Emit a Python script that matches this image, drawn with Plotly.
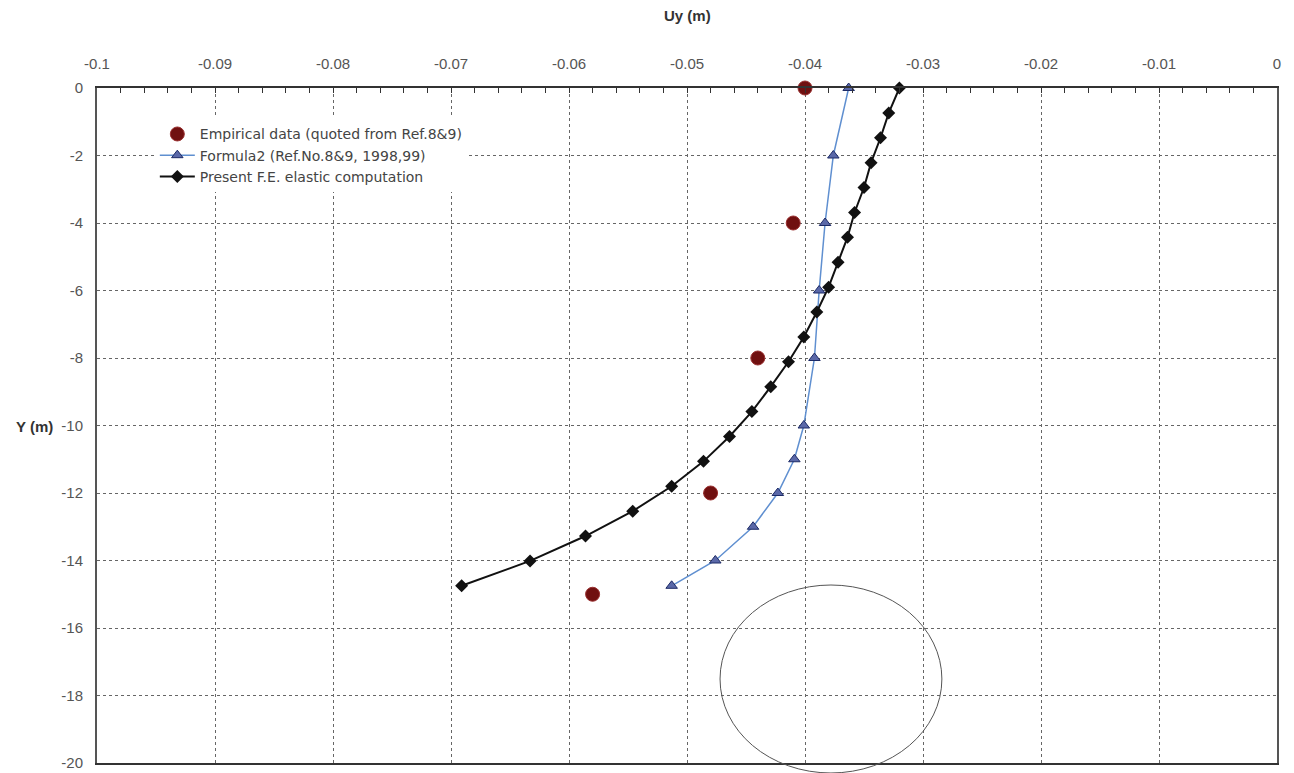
import plotly.graph_objects as go

# Measured points: empirical displacements (m) at depth Y (m)
emp_y = [0, -4, -8, -12, -15]
emp_uy = [-0.0400, -0.0410, -0.0440, -0.0480, -0.0580]

# Formula2 (Ref.No.8&9, 1998,99)
f2_y = [0, -2, -4, -6, -8, -10, -11, -12, -13, -14, -14.75]
f2_uy = [-0.0363, -0.0376, -0.0383, -0.0388, -0.0392, -0.0401, -0.0409,
         -0.0423, -0.0444, -0.0476, -0.0513]

# Present F.E. elastic computation (21 nodes along the wall)
fe_y = [0, -0.7375, -1.475, -2.2125, -2.95, -3.6875, -4.425, -5.1625, -5.9,
        -6.6375, -7.375, -8.1125, -8.85, -9.5875, -10.325, -11.0625, -11.8,
        -12.5375, -13.275, -14.0125, -14.75]
fe_uy = [-0.0320, -0.0329, -0.0336, -0.0344, -0.0350, -0.0358, -0.0364,
         -0.0372, -0.0380, -0.0390, -0.0401, -0.0414, -0.0429, -0.0445,
         -0.0464, -0.0486, -0.0513, -0.0546, -0.0586, -0.0633, -0.0691]

x_ticks = [-0.1, -0.09, -0.08, -0.07, -0.06, -0.05, -0.04, -0.03, -0.02, -0.01, 0]
x_labels = ["-0.1", "-0.09", "-0.08", "-0.07", "-0.06", "-0.05", "-0.04",
            "-0.03", "-0.02", "-0.01", "0"]
y_ticks = [0, -2, -4, -6, -8, -10, -12, -14, -16, -18, -20]
y_labels = ["0", "-2", "-4", "-6", "-8", "-10", "-12", "-14", "-16", "-18", "-20"]

# highlighted zone near the toe of the wall (x in data units, y in paper units)
zone_x = [-0.0472, -0.0284]
zone_y = [-0.0148, 0.2637]

FONT = "Liberation Sans, Arial, sans-serif"
LEGEND_FONT = "DejaVu Sans, Verdana, sans-serif"

fig = go.Figure()

fig.add_trace(go.Scatter(
    x=emp_uy, y=emp_y, mode="markers",
    name="Empirical data (quoted from Ref.8&9)", legendgroup="a",
    marker=dict(symbol="circle", size=14, color="#701010",
                line=dict(color="#9a3030", width=1)),
    cliponaxis=False,
))
fig.add_trace(go.Scatter(
    x=f2_uy, y=f2_y, mode="lines+markers",
    name="Formula2 (Ref.No.8&9, 1998,99)", legendgroup="b",
    line=dict(color="#5f8fd0", width=1.5),
    marker=dict(symbol="triangle-up", size=10, color="#5a68a8",
                line=dict(color="#1c2a66", width=1)),
    cliponaxis=False,
))
fig.add_trace(go.Scatter(
    x=fe_uy, y=fe_y, mode="lines+markers",
    name="Present F.E. elastic computation", legendgroup="c",
    line=dict(color="#111111", width=2),
    marker=dict(symbol="diamond", size=10, color="#111111"),
    cliponaxis=False,
))

fig.add_shape(type="circle", xref="x", yref="paper",
              x0=zone_x[0], x1=zone_x[1], y0=zone_y[0], y1=zone_y[1],
              line=dict(color="#555555", width=1))

fig.update_xaxes(
    range=[-0.1, 0], side="top", automargin=False,
    tickvals=x_ticks, ticktext=x_labels,
    showgrid=True, gridcolor="#666666", griddash="dot", gridwidth=1,
    showline=True, linecolor="#333333", linewidth=2, mirror=True,
    ticks="inside", ticklen=5, tickcolor="#333333",
    minor=dict(ticks="inside", dtick=0.002, ticklen=5, tickcolor="#333333",
               showgrid=False),
    tickfont=dict(family=FONT, size=15, color="#555555"),
    zeroline=False, ticklabelstandoff=11,
)
fig.update_yaxes(
    range=[-20, 0], automargin=False,
    tickvals=y_ticks, ticktext=y_labels,
    showgrid=True, gridcolor="#666666", griddash="dot", gridwidth=1,
    showline=True, linecolor="#555555", linewidth=2, mirror=True,
    ticks="", tickfont=dict(family=FONT, size=15, color="#555555"),
    zeroline=False, ticklabelstandoff=9,
)

fig.add_annotation(text="<b>Uy (m)</b>", xref="paper", yref="paper",
                   x=0.5, y=1.1067, yanchor="middle", showarrow=False,
                   font=dict(family=FONT, size=15, color="#333333"))
fig.add_annotation(text="<b>Y (m)</b>", xref="paper", yref="paper",
                   x=-0.0356, y=0.4978, xanchor="right", yanchor="middle",
                   showarrow=False,
                   font=dict(family=FONT, size=15, color="#333333"))

fig.update_layout(
    width=1294, height=773,
    margin=dict(l=97, r=17, t=88, b=10, autoexpand=False),
    plot_bgcolor="white", paper_bgcolor="white",
    showlegend=True,
    legend=dict(x=0.049, y=0.955, xanchor="left", yanchor="top",
                bgcolor="white", borderwidth=0, itemwidth=35,
                font=dict(family=LEGEND_FONT, size=14, color="#444444"),
                tracegroupgap=0),
)

fig.write_html("out.html")
